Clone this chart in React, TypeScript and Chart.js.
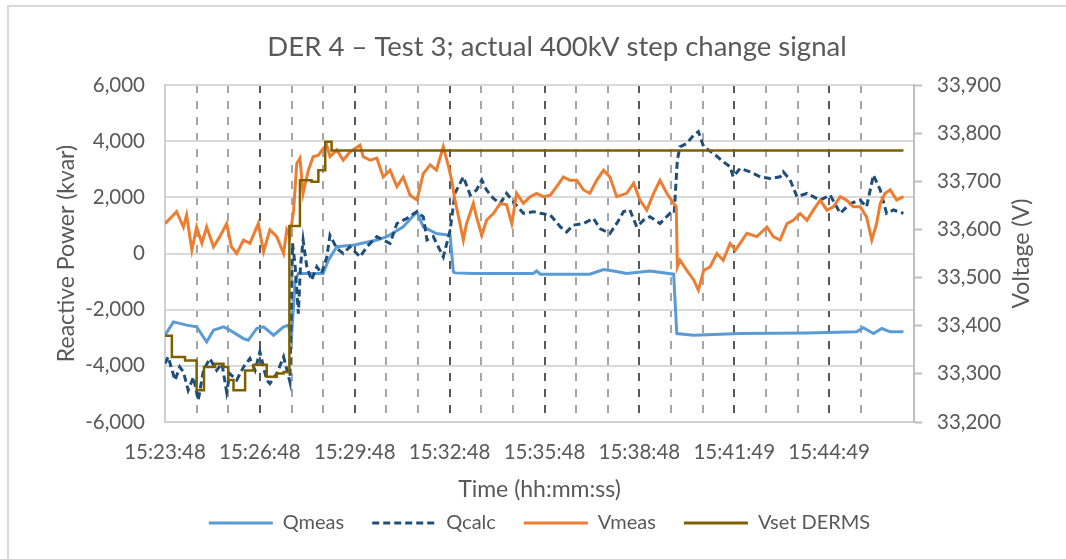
import React, { useEffect, useRef } from 'react';
import { Chart, registerables } from 'chart.js';

Chart.register(...registerables);

const chartTitle = 'DER 4 – Test 3; actual 400kV step change signal';
const xAxisTitle = 'Time (hh:mm:ss)';
const leftAxisTitle = 'Reactive Power (kvar)';
const rightAxisTitle = 'Voltage (V)';

// x axis: seconds since 15:23:48
const timeTickLabels = ['15:23:48', '15:26:48', '15:29:48', '15:32:48', '15:35:48', '15:38:48', '15:41:49', '15:44:49'];
const labelEverySeconds = 180;
const gridEverySeconds = 60;
const axisEndSeconds = 1421;

const qmeasTime = [0, 16, 41, 60, 79, 92, 111, 123, 149, 158, 174, 187, 206, 225, 234, 240, 247, 253, 300, 310, 326, 359, 402, 421, 452, 478, 490, 515, 541, 547, 550, 585, 699, 705, 712, 806, 832, 851, 876, 920, 965, 971, 1003, 1091, 1217, 1312, 1325, 1344, 1360, 1376, 1401];
const qmeasKvar = [-2910, -2435, -2550, -2610, -3150, -2730, -2610, -2730, -3030, -3090, -2670, -2610, -2910, -2610, -2550, -2970, -950, -710, -710, -240, 240, 300, 480, 600, 950, 1490, 950, 710, 650, -650, -690, -710, -710, -620, -735, -735, -570, -620, -710, -620, -735, -2850, -2910, -2850, -2830, -2790, -2640, -2850, -2670, -2790, -2790];

const qcalcTime = [0, 6, 19, 28, 35, 44, 54, 63, 73, 85, 98, 108, 117, 123, 136, 149, 161, 171, 180, 193, 199, 212, 225, 237, 242, 247, 253, 257, 262, 269, 278, 288, 297, 307, 313, 326, 338, 351, 370, 383, 402, 414, 427, 440, 459, 478, 490, 497, 509, 528, 541, 550, 566, 579, 591, 601, 610, 623, 636, 648, 661, 680, 699, 712, 731, 750, 762, 775, 794, 813, 825, 844, 857, 870, 882, 895, 908, 920, 939, 958, 966, 972, 977, 990, 1003, 1012, 1022, 1041, 1059, 1072, 1078, 1091, 1110, 1129, 1148, 1167, 1173, 1186, 1199, 1218, 1243, 1262, 1281, 1300, 1319, 1331, 1344, 1357, 1369, 1382, 1401];
const qcalcKvar = [-3920, -3680, -4510, -4040, -4220, -4870, -4400, -5230, -4160, -3740, -4160, -3920, -4930, -4280, -4510, -4040, -3740, -4160, -3500, -4510, -4630, -4280, -3680, -4570, 360, -470, -2140, -470, 480, -470, -950, -470, -710, -120, 650, 180, 0, 240, -120, 240, 600, 480, 360, 1070, 1250, 1490, 1310, 480, 600, -120, 830, 2140, 2730, 2080, 2260, 2620, 2260, 1960, 1780, 2140, 1840, 1430, 1490, 1430, 1370, 950, 770, 1010, 1070, 1250, 890, 710, 1070, 1490, 1550, 950, 1190, 1310, 1070, 1430, 1430, 3330, 3800, 3920, 4220, 4340, 3800, 3560, 3270, 3090, 2730, 3030, 2910, 2730, 2670, 2730, 2910, 2620, 2020, 2140, 1900, 2080, 1430, 1780, 1900, 1660, 2790, 2260, 1430, 1550, 1430];

const vmeasTime = [0, 16, 22, 35, 41, 51, 60, 70, 79, 92, 104, 117, 126, 136, 149, 161, 177, 187, 199, 212, 225, 231, 237, 244, 250, 256, 262, 272, 281, 291, 300, 307, 313, 326, 338, 351, 370, 376, 389, 402, 414, 427, 440, 452, 465, 478, 490, 503, 515, 528, 538, 544, 550, 557, 566, 572, 585, 591, 601, 610, 623, 636, 648, 658, 667, 680, 693, 705, 718, 731, 743, 756, 768, 781, 794, 806, 819, 832, 844, 857, 876, 889, 901, 914, 927, 939, 952, 965, 970, 972, 977, 990, 1003, 1012, 1022, 1034, 1047, 1059, 1072, 1082, 1091, 1104, 1123, 1142, 1154, 1167, 1180, 1192, 1205, 1218, 1230, 1243, 1256, 1268, 1281, 1293, 1306, 1319, 1331, 1341, 1350, 1357, 1366, 1376, 1388, 1401];
const vmeasVolt = [33612, 33630, 33637, 33605, 33630, 33557, 33605, 33571, 33605, 33564, 33585, 33612, 33564, 33550, 33578, 33571, 33612, 33554, 33599, 33585, 33550, 33599, 33585, 33640, 33737, 33748, 33675, 33723, 33751, 33754, 33768, 33775, 33751, 33765, 33744, 33761, 33775, 33751, 33744, 33748, 33709, 33723, 33689, 33709, 33671, 33661, 33716, 33734, 33723, 33772, 33730, 33702, 33661, 33626, 33578, 33612, 33654, 33626, 33588, 33619, 33633, 33654, 33651, 33612, 33675, 33654, 33668, 33675, 33668, 33671, 33689, 33709, 33702, 33702, 33682, 33675, 33702, 33723, 33709, 33668, 33675, 33696, 33661, 33640, 33675, 33702, 33675, 33654, 33647, 33522, 33536, 33515, 33495, 33474, 33515, 33522, 33550, 33536, 33571, 33557, 33571, 33592, 33585, 33605, 33585, 33578, 33612, 33619, 33633, 33619, 33640, 33661, 33640, 33647, 33668, 33661, 33647, 33647, 33626, 33578, 33612, 33654, 33675, 33682, 33661, 33668];

const vsetTime = [0, 13, 38, 60, 74, 95, 111, 120, 130, 152, 168, 193, 212, 225, 236, 256, 278, 291, 304, 316, 1401];
const vsetVolt = [33379, 33335, 33328, 33266, 33314, 33321, 33314, 33287, 33266, 33307, 33319, 33294, 33301, 33304, 33607, 33702, 33699, 33723, 33782, 33764, 33764];

const seriesNames = ['Qmeas', 'Qcalc', 'Vmeas', 'Vset DERMS'];

const textColor = '#595959';
const fontFamily = 'Lato';
const axisTitleSize = 23;

const zip = (t: number[], v: number[]) => t.map((x, i) => ({ x, y: v[i] }));

const rightTitlePlugin = {
  id: 'rightTitle',
  afterDraw(chart: any) {
    const { ctx, chartArea } = chart;
    const s = chart.scales.y1;
    ctx.save();
    ctx.font = `${axisTitleSize}px ${fontFamily}`;
    ctx.fillStyle = textColor;
    ctx.textAlign = 'center';
    ctx.textBaseline = 'middle';
    ctx.translate(s.left + 108, (chartArea.top + chartArea.bottom) / 2);
    ctx.rotate(-Math.PI / 2);
    ctx.fillText(rightAxisTitle, 0, 0);
    ctx.restore();
  },
};

export default function App() {
  const ref = useRef<HTMLCanvasElement | null>(null);

  useEffect(() => {
    if (!ref.current) return;
    Chart.defaults.font.family = fontFamily;
    const chart = new Chart(ref.current, {
      type: 'line',
      data: {
        datasets: [
          {
            label: seriesNames[0],
            data: zip(qmeasTime, qmeasKvar),
            yAxisID: 'y',
            borderColor: '#5B9BD5',
            backgroundColor: '#5B9BD5',
            borderWidth: 3,
            pointRadius: 0,
            tension: 0,
            order: 3,
          },
          {
            label: seriesNames[1],
            data: zip(qcalcTime, qcalcKvar),
            yAxisID: 'y',
            borderColor: '#1F4E79',
            backgroundColor: '#1F4E79',
            borderWidth: 3,
            borderDash: [7, 4],
            pointRadius: 0,
            tension: 0,
            order: 2,
          },
          {
            label: seriesNames[2],
            data: zip(vmeasTime, vmeasVolt),
            yAxisID: 'y1',
            borderColor: '#ED7D31',
            backgroundColor: '#ED7D31',
            borderWidth: 3,
            pointRadius: 0,
            tension: 0,
            order: 1,
          },
          {
            label: seriesNames[3],
            data: zip(vsetTime, vsetVolt),
            yAxisID: 'y1',
            borderColor: '#7F6000',
            backgroundColor: '#7F6000',
            borderWidth: 2.5,
            pointRadius: 0,
            stepped: 'before',
            order: 0,
          },
        ],
      },
      options: {
        responsive: false,
        animation: false,
        events: [],
        layout: { padding: { left: 0, right: 0, top: 0, bottom: 16 } },
        plugins: {
          title: {
            display: true,
            text: chartTitle,
            color: textColor,
            font: { size: 27.5, weight: 'normal' },
            padding: { top: 23.5, bottom: 21.5 },
          },
          legend: {
            position: 'bottom',
            fullSize: false,
            labels: {
              usePointStyle: true,
              pointStyle: 'line',
              pointStyleWidth: 64,
              padding: 28,
              color: textColor,
              font: { size: 20 },
              sort: (a: any, b: any) => a.datasetIndex - b.datasetIndex,
              generateLabels: (chart: any) => {
                const items = (Chart.defaults.plugins.legend.labels as any).generateLabels(chart);
                items.forEach((it: any) => {
                  const ds = chart.data.datasets[it.datasetIndex];
                  it.lineDash = ds.borderDash || [];
                  it.lineWidth = 3;
                  it.strokeStyle = ds.borderColor;
                  it.fillStyle = ds.borderColor;
                  it.pointStyle = 'line';
                });
                return items;
              },
            },
          },
          tooltip: { enabled: false },
        },
        scales: {
          x: {
            type: 'linear',
            min: 0,
            max: axisEndSeconds,
            afterFit: (s: any) => { s.height = 63; },
            ticks: {
              stepSize: gridEverySeconds,
              autoSkip: false,
              maxRotation: 0,
              minRotation: 0,
              padding: 18,
              color: textColor,
              font: { size: 20.5 },
              callback: (v: any) => {
                const n = Number(v);
                if (n % labelEverySeconds === 0) return timeTickLabels[n / labelEverySeconds] ?? '';
                return '';
              },
            },
            grid: {
              lineWidth: 2,
              drawTicks: false,
              color: (ctx: any) => {
                const v = ctx.tick ? ctx.tick.value : 0;
                if (v <= 0 || v % gridEverySeconds !== 0) return 'rgba(0,0,0,0)';
                return v % labelEverySeconds === 0 ? '#595959' : '#a6a6a6';
              },
            },
            border: { display: true, color: '#d0d0d0', width: 2, dash: [8, 8] },
            title: {
              display: true,
              text: xAxisTitle,
              color: textColor,
              font: { size: axisTitleSize },
              padding: { top: 0, bottom: -18.8 },
            },
          },
          y: {
            position: 'left',
            min: -6000,
            max: 6000,
            afterFit: (s: any) => { s.width = 156; },
            ticks: {
              stepSize: 2000,
              padding: 20,
              color: textColor,
              font: { size: 20.5 },
              callback: (v: any) => Number(v).toLocaleString('en-US'),
            },
            grid: { color: '#d9d9d9', lineWidth: 2, drawTicks: false },
            border: { color: '#d0d0d0', width: 2 },
            title: {
              display: true,
              text: leftAxisTitle,
              color: textColor,
              font: { size: axisTitleSize },
              padding: { top: 44.2, bottom: 0 },
            },
          },
          y1: {
            position: 'right',
            min: 33200,
            max: 33900,
            afterFit: (s: any) => { s.width = 191; },
            ticks: {
              stepSize: 100,
              padding: 15,
              color: textColor,
              font: { size: 20.5 },
              callback: (v: any) => Number(v).toLocaleString('en-US'),
            },
            grid: {
              drawOnChartArea: false,
              drawTicks: true,
              tickLength: 8,
              tickColor: '#bfbfbf',
              tickWidth: 2,
              color: '#bfbfbf',
            },
            border: { color: '#bfbfbf', width: 2 },
          },
        },
      } as any,
      plugins: [rightTitlePlugin],
    });
    return () => chart.destroy();
  }, []);

  return (
    <div
      style={{
        position: 'absolute',
        left: 7,
        top: 5,
        width: 1059,
        height: 554,
        borderTop: '2px solid #d9d9d9',
        borderLeft: '2px solid #d9d9d9',
        overflow: 'hidden',
        background: '#fff',
      }}
    >
      <canvas ref={ref} width={1096} height={552} style={{ display: 'block' }} />
    </div>
  );
}
